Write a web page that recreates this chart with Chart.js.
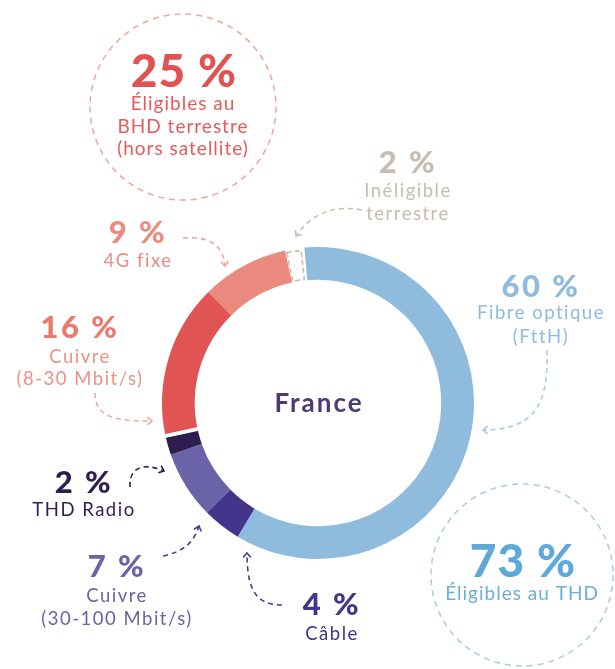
<!DOCTYPE html>
<html><head><meta charset="utf-8">
<script src="https://cdn.jsdelivr.net/npm/chart.js@4/dist/chart.umd.min.js"></script>
<style>html,body{margin:0;padding:0;background:#fff;}#wrap{width:615px;height:669px;position:relative;overflow:hidden}</style>
</head><body><div id="wrap"><canvas id="c" width="615" height="669"></canvas></div>
<script>
// ---- data ----
const categories = ['Fibre optique (FttH)', 'Câble', 'Cuivre (30-100 Mbit/s)', 'THD Radio', 'Cuivre (8-30 Mbit/s)', '4G fixe', 'Inéligible terrestre'];
const shares = [60, 4, 7, 2, 16, 9, 2];
const shareLabels = ['60 %', '4 %', '7 %', '2 %', '16 %', '9 %', '2 %'];
const labelLines = [['Fibre optique', '(FttH)'], ['Câble'], ['Cuivre', '(30-100 Mbit/s)'], ['THD Radio'], ['Cuivre', '(8-30 Mbit/s)'], ['4G fixe'], ['Inéligible', 'terrestre']];
const groupTotals = ['73 %', '25 %'];
const groupLines = [['Éligibles au THD'], ['Éligibles au', 'BHD terrestre', '(hors satellite)']];
const centerTitle = 'France';

// ---- styles ----
const segColors = ['#8fbbdd', '#44348b', '#6b63a7', '#2e1e50', '#e05454', '#ea8a7f', 'rgba(0,0,0,0)'];
const numColors = ['#8fbbdd', '#44348b', '#6b63a7', '#2e1e50', '#ea7a6c', '#ea8c80', '#c6bcb0'];
const txtColors = ['#8fbbdd', '#44348b', '#6b63a7', '#2e1e50', '#ee9084', '#ea8c80', '#c6bcb0'];
const arrowColors = ['#a9cbe6', '#4a3f8a', '#4a3f8a', '#2e1e50', '#eeaaa0', '#eba59c', '#c9c0b5'];
// label anchor (center x, number baseline) and line baselines
const labelPos = [
  {x: 541, y: 297, lines: [319, 343]},
  {x: 332, y: 615, lines: [640]},
  {x: 117, y: 577, lines: [602, 625]},
  {x: 84, y: 493, lines: [516]},
  {x: 80, y: 338, lines: [363, 385]},
  {x: 138, y: 243, lines: [267]},
  {x: 408, y: 173, lines: [197, 220]}
];
const arrows = [
  [[547, 350], [548, 398], [540, 430], [483, 430]],
  [[282, 605], [256, 605], [247, 590], [247, 553]],
  [[163, 556], [181, 552], [193, 545], [199, 526]],
  [[130, 487], [129, 470], [140, 461], [164, 471]],
  [[95, 393], [95, 417], [114, 421], [152, 421]],
  [[183, 238], [208, 236], [223, 244], [225, 266]],
  [[362, 210], [331, 204], [310, 216], [296, 236]]
];
const groups = [
  {cx: 522, cy: 575, r: 91, ring: '#aacbe5', num: '#5ea8da', txt: '#6aaedb', y: 577, lines: [600]},
  {cx: 183, cy: 107, r: 93, ring: '#f0a59b', num: '#e05353', txt: '#e35b5b', y: 87, lines: [110, 133, 155]}
];
const FONT = 'Lato, "Open Sans", sans-serif';

const decor = {
  id: 'decor',
  afterDatasetsDraw(chart) {
    const ctx = chart.ctx;
    const arcs = chart.getDatasetMeta(0).data;
    const cx = arcs[0].x, cy = arcs[0].y;
    const deg = Math.PI / 180;
    // white gap between THD Radio and Cuivre (8-30)
    const g = arcs[3];
    ctx.save();
    ctx.strokeStyle = '#fff';
    ctx.lineWidth = 4;
    ctx.beginPath();
    ctx.moveTo(cx + Math.cos(g.endAngle) * (g.innerRadius - 2), cy + Math.sin(g.endAngle) * (g.innerRadius - 2));
    ctx.lineTo(cx + Math.cos(g.endAngle) * (g.outerRadius + 2), cy + Math.sin(g.endAngle) * (g.outerRadius + 2));
    ctx.stroke();
    // dashed box for inéligible
    const b = arcs[6];
    const a1 = b.startAngle + 0.5 * deg, a2 = b.endAngle - 1.3 * deg;
    const ro = b.outerRadius - 2.5, ri = b.innerRadius + 1;
    ctx.strokeStyle = '#c6bcb0';
    ctx.lineWidth = 1.6;
    ctx.setLineDash([5, 3]);
    ctx.beginPath();
    ctx.arc(cx, cy, ro, a1, a2);
    ctx.arc(cx, cy, ri, a2, a1, true);
    ctx.closePath();
    ctx.stroke();
    ctx.restore();

    // dashed group circles
    ctx.save();
    groups.forEach(gr => {
      ctx.strokeStyle = gr.ring; ctx.lineWidth = 1.5; ctx.setLineDash([6, 5]);
      ctx.beginPath(); ctx.arc(gr.cx, gr.cy, gr.r, 0, Math.PI * 2); ctx.stroke();
    });
    ctx.restore();

    // arrows
    arrows.forEach((p, i) => {
      ctx.save();
      ctx.strokeStyle = arrowColors[i]; ctx.lineWidth = 1.6; ctx.setLineDash([5, 4]);
      ctx.beginPath(); ctx.moveTo(p[0][0], p[0][1]);
      ctx.bezierCurveTo(p[1][0], p[1][1], p[2][0], p[2][1], p[3][0], p[3][1]);
      ctx.stroke();
      ctx.setLineDash([]);
      const ang = Math.atan2(p[3][1] - p[2][1], p[3][0] - p[2][0]);
      const L = 6;
      ctx.beginPath();
      ctx.moveTo(p[3][0] - L * Math.cos(ang - 0.7), p[3][1] - L * Math.sin(ang - 0.7));
      ctx.lineTo(p[3][0], p[3][1]);
      ctx.lineTo(p[3][0] - L * Math.cos(ang + 0.7), p[3][1] - L * Math.sin(ang + 0.7));
      ctx.stroke();
      ctx.restore();
    });

    // texts
    ctx.save();
    ctx.textAlign = 'center'; ctx.textBaseline = 'alphabetic';
    shareLabels.forEach((s, i) => {
      const lp = labelPos[i];
      ctx.fillStyle = numColors[i];
      ctx.font = '900 31px ' + FONT;
      ctx.letterSpacing = '2.5px';
      ctx.fillText(s, lp.x, lp.y);
      ctx.fillStyle = txtColors[i];
      ctx.font = '400 18.5px ' + FONT;
      ctx.letterSpacing = '1.5px';
      labelLines[i].forEach((t, j) => ctx.fillText(t, lp.x, lp.lines[j]));
    });
    groups.forEach((gr, i) => {
      ctx.fillStyle = gr.num;
      ctx.font = '900 46px ' + FONT;
      ctx.letterSpacing = '1px';
      ctx.fillText(groupTotals[i], gr.cx + 1, gr.y);
      ctx.fillStyle = gr.txt;
      ctx.font = '400 19px ' + FONT;
      ctx.letterSpacing = '1px';
      groupLines[i].forEach((t, j) => ctx.fillText(t, gr.cx, gr.lines[j]));
    });
    ctx.fillStyle = '#4b3b72';
    ctx.font = '700 26px ' + FONT;
    ctx.letterSpacing = '2px';
    ctx.fillText(centerTitle, cx + 1, 412);
    ctx.restore();
  }
};

new Chart(document.getElementById('c'), {
  type: 'doughnut',
  data: {
    labels: categories,
    datasets: [{
      data: shares,
      backgroundColor: segColors,
      borderWidth: 0,
      hoverOffset: 0
    }]
  },
  options: {
    responsive: false,
    animation: false,
    devicePixelRatio: 1,
    rotation: -5,
    cutout: '79%',
    layout: {padding: {left: 162, right: 141, top: 247, bottom: 110}},
    plugins: {legend: {display: false}, tooltip: {enabled: false}}
  },
  plugins: [decor]
});
</script>
</body></html>
